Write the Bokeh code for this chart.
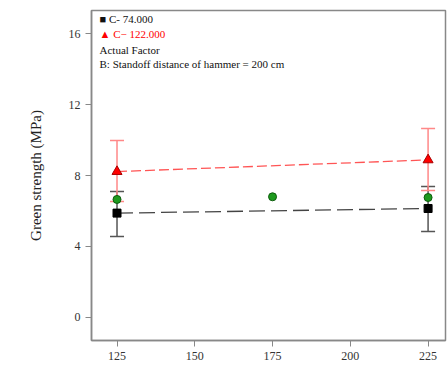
from bokeh.plotting import figure
from bokeh.models import Range1d, FixedTicker, Whisker, ColumnDataSource, Label, TeeHead
from bokeh.embed import file_html
from bokeh.resources import INLINE

# Data
x_levels = [125, 225]
black_mean = [5.88, 6.14]
black_upper = [7.10, 7.38]
black_lower = [4.56, 4.85]
red_mean = [8.22, 8.88]
red_upper = [9.97, 10.65]
red_lower = [6.54, 7.15]
green_x = [125, 175, 225]
green_y = [6.65, 6.80, 6.76]
x_ticks = [125, 150, 175, 200, 225]
y_ticks = [0, 4, 8, 12, 16]

FONT = "Liberation Serif"

p = figure(width=447, height=369, output_backend="svg", toolbar_location=None,
           x_range=Range1d(116.8, 230.6), y_range=Range1d(-1.30, 17.3),
           min_border_left=91, min_border_right=2, min_border_top=10, min_border_bottom=29)
p.background_fill_color = "white"
p.border_fill_color = "white"
p.outline_line_color = "#888888"
p.outline_line_width = 1.5
p.xgrid.visible = False
p.ygrid.visible = False

for ax in (p.xaxis[0], p.yaxis[0]):
    ax.axis_line_color = "#888888"
    ax.axis_line_width = 1.5
    ax.major_tick_line_color = "#888888"
    ax.major_tick_in = 0
    ax.major_tick_out = 6
    ax.minor_tick_line_color = None
    ax.major_label_text_font = FONT
    ax.major_label_text_font_size = "12px"
    ax.major_label_text_color = "#333333"

p.xaxis.ticker = FixedTicker(ticks=x_ticks)
p.yaxis.ticker = FixedTicker(ticks=y_ticks)
p.yaxis.axis_label = "Green strength (MPa)"
p.yaxis.axis_label_text_font = FONT
p.yaxis.axis_label_text_font_style = "normal"
p.yaxis.axis_label_text_font_size = "15px"
p.yaxis.axis_label_text_color = "#222222"
p.yaxis.axis_label_standoff = 22

# Error bars
bsrc = ColumnDataSource(dict(x=x_levels, y=black_mean, up=black_upper, lo=black_lower))
rsrc = ColumnDataSource(dict(x=x_levels, y=red_mean, up=red_upper, lo=red_lower))
p.add_layout(Whisker(source=bsrc, base="x", upper="up", lower="lo", line_color="#555555", line_width=1.5,
                     upper_head=TeeHead(size=14, line_color="#555555", line_width=1.5),
                     lower_head=TeeHead(size=14, line_color="#555555", line_width=1.5)))
p.add_layout(Whisker(source=rsrc, base="x", upper="up", lower="lo", line_color="#ff8888", line_width=1.5,
                     upper_head=TeeHead(size=14, line_color="#ff8888", line_width=1.5),
                     lower_head=TeeHead(size=14, line_color="#ff8888", line_width=1.5)))

# Lines
p.line(x_levels, black_mean, line_color="#444444", line_width=1.3, line_dash="16 6")
p.line(x_levels, red_mean, line_color="#ff5555", line_width=1.3, line_dash="10 4")

# Markers
p.scatter(x_levels, black_mean, marker="square", size=8, fill_color="black", line_color="black")
p.scatter(x_levels, red_mean, marker="triangle", size=10, fill_color="red", line_color="#aa0000")
p.scatter(green_x, green_y, marker="circle", size=8, fill_color="#1e9a1e", line_color="#0d5c0d")

# Legend-like labels
def lab(x, y, text, color="#111111", size="11px"):
    p.add_layout(Label(x=x, y=y, x_units="screen", y_units="screen", text=text,
                       text_font=FONT, text_font_size=size, text_color=color,
                       text_baseline="middle"))

lab(8, 330 - 8, "\u25a0  C- 74.000")
lab(8, 330 - 23, "\u25b2  C\u2212 122.000", color="red")
lab(8, 330 - 39, "Actual Factor")
lab(8, 330 - 53, "B: Standoff distance of hammer = 200 cm")

open("out.html", "w").write(file_html(p, INLINE))
